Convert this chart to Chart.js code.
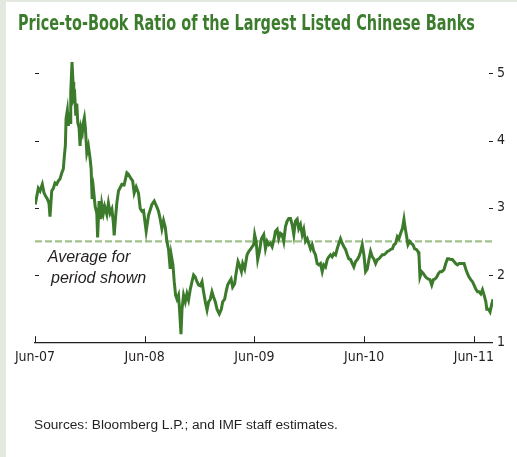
<!DOCTYPE html>
<html>
<head>
<meta charset="utf-8">
<script src="https://cdn.jsdelivr.net/npm/chart.js@4.4.1/dist/chart.umd.min.js"></script>
<style>
  html, body { margin: 0; padding: 0; background: #ffffff; }
  #frame { position: relative; width: 517px; height: 457px; overflow: hidden; background: #ffffff; }
  #edgeLeft { position: absolute; left: 0; top: 0; width: 6px; height: 457px; background: #e3e9de; }
  #edgeTop { position: absolute; left: 0; top: 0; width: 517px; height: 2px; background: #e3e9de; }
  #title {
    position: absolute; left: 18px; top: 12px; margin: 0;
    font-family: 'Liberation Sans Narrow', 'DejaVu Sans Condensed', 'DejaVu Sans', sans-serif;
    font-stretch: condensed; font-weight: bold; font-size: 22px; line-height: 22px;
    color: #3b7d2c; white-space: nowrap; transform-origin: 0 0;
  }
  #source {
    position: absolute; left: 34px; top: 417px; margin: 0;
    font-family: 'Liberation Sans', Arial, sans-serif; font-size: 13.7px; line-height: 16px;
    color: #231f20; white-space: nowrap;
  }
  canvas { position: absolute; left: 0; top: 0; }
</style>
</head>
<body>
<div id="frame">
  <div id="edgeLeft"></div>
  <div id="edgeTop"></div>
  <canvas id="chart" width="517" height="457"></canvas>
  <div id="title">Price-to-Book Ratio of the Largest Listed Chinese Banks</div>
  <div id="source">Sources: Bloomberg L.P.; and IMF staff estimates.</div>
</div>
<script>
// Months elapsed since June 2007
const months = [
  0.03, 0.36, 0.55, 0.80, 0.99, 1.17, 1.35, 1.53, 1.64, 1.83, 2.01, 2.19, 2.38, 2.55, 2.74, 2.93, 3.10, 3.21, 3.32, 3.40,
  3.54, 3.65, 3.76, 3.84, 3.91, 4.05, 4.16, 4.24, 4.35, 4.46, 4.57, 4.68, 4.82, 4.93, 5.04, 5.18, 5.29, 5.40, 5.51, 5.67,
  5.84, 6.03, 6.14, 6.25, 6.39, 6.58, 6.76, 6.85, 7.01, 7.20, 7.31, 7.48, 7.62, 7.86, 8.03, 8.22, 8.41, 8.58, 8.66, 8.82,
  8.95, 9.13, 9.50, 9.75, 10.05, 10.22, 10.47, 10.68, 10.85, 11.07, 11.32, 11.51, 11.69, 11.87, 12.16, 12.42, 12.79, 13.04, 13.34, 13.51,
  13.70, 13.88, 14.06, 14.25, 14.43, 14.61, 14.79, 14.90, 15.09, 15.23, 15.38, 15.53, 15.70, 15.81, 15.97, 16.08, 16.25, 16.44, 16.62, 16.80,
  16.99, 17.17, 17.35, 17.53, 17.72, 17.90, 18.08, 18.27, 18.44, 18.63, 18.82, 18.99, 19.18, 19.36, 19.54, 19.73, 19.91, 20.16, 20.38, 20.53,
  20.75, 20.90, 21.07, 21.26, 21.45, 21.62, 21.84, 21.99, 22.21, 22.36, 22.58, 22.72, 22.94, 23.20, 23.38, 23.56, 23.75, 23.92, 24.03, 24.19,
  24.36, 24.55, 24.77, 25.02, 25.21, 25.39, 25.57, 25.75, 25.94, 26.16, 26.30, 26.49, 26.66, 26.85, 27.04, 27.21, 27.40, 27.58, 27.76, 27.95,
  28.13, 28.31, 28.49, 28.68, 28.85, 29.04, 29.23, 29.40, 29.59, 29.78, 29.95, 30.14, 30.32, 30.50, 30.68, 30.87, 31.05, 31.23, 31.42, 31.59,
  31.78, 31.97, 32.14, 32.33, 32.51, 32.69, 32.88, 33.06, 33.24, 33.42, 33.61, 33.79, 33.97, 34.16, 34.33, 34.52, 34.71, 34.88, 35.07, 35.26,
  35.43, 35.62, 35.80, 35.98, 36.16, 36.35, 36.53, 36.71, 36.90, 37.07, 37.26, 37.45, 37.62, 37.81, 37.99, 38.17, 38.36, 38.54, 38.72, 38.90,
  39.09, 39.27, 39.45, 39.64, 39.81, 40.00, 40.19, 40.36, 40.47, 40.62, 40.80, 40.99, 41.17, 41.35, 41.53, 41.72, 41.90, 42.00, 42.11, 42.30,
  42.49, 42.74, 42.99, 43.21, 43.40, 43.58, 43.76, 43.95, 44.13, 44.31, 44.49, 44.74, 44.93, 45.12, 45.29, 45.48, 45.66, 45.84, 46.03, 46.21,
  46.39, 46.58, 46.76, 46.94, 47.12, 47.31, 47.48, 47.67, 47.86, 48.03, 48.22, 48.41, 48.58, 48.77, 48.95, 49.13, 49.32, 49.42, 49.61, 49.78,
  49.97, 50.11
];

// Price-to-book ratio
const ratios = [
  3.05, 3.29, 3.25, 3.35, 3.22, 3.17, 3.13, 3.07, 2.87, 3.25, 3.29, 3.37, 3.35, 3.40, 3.43, 3.52, 3.58, 3.77, 3.92, 4.33,
  4.45, 4.22, 4.42, 4.27, 4.72, 5.17, 4.87, 4.63, 4.67, 4.37, 4.55, 4.27, 4.19, 3.92, 4.19, 4.12, 4.27, 4.34, 4.19, 3.82,
  3.92, 3.73, 3.58, 3.13, 3.28, 3.02, 2.92, 2.56, 3.10, 2.83, 3.05, 2.92, 3.02, 2.90, 3.07, 2.92, 2.98, 2.77, 2.59, 2.87,
  3.07, 3.25, 3.35, 3.34, 3.52, 3.50, 3.44, 3.40, 3.22, 3.31, 3.22, 2.99, 2.95, 2.96, 2.65, 2.89, 3.05, 3.10, 3.01, 2.95,
  2.83, 2.69, 2.81, 2.71, 2.50, 2.38, 2.09, 2.30, 2.15, 1.90, 1.70, 1.64, 1.70, 1.49, 1.12, 1.49, 1.70, 1.60, 1.72, 1.63,
  1.79, 1.90, 2.00, 1.97, 1.90, 1.85, 1.84, 1.90, 1.75, 1.60, 1.48, 1.60, 1.64, 1.75, 1.67, 1.60, 1.49, 1.42, 1.49, 1.60,
  1.64, 1.75, 1.85, 1.90, 1.94, 1.82, 1.87, 2.02, 2.20, 2.15, 2.05, 2.17, 2.09, 2.30, 2.35, 2.38, 2.42, 2.45, 2.60, 2.50,
  2.23, 2.35, 2.54, 2.60, 2.39, 2.50, 2.45, 2.47, 2.42, 2.54, 2.65, 2.68, 2.54, 2.62, 2.60, 2.50, 2.72, 2.80, 2.84, 2.84,
  2.75, 2.60, 2.80, 2.83, 2.69, 2.75, 2.60, 2.68, 2.50, 2.54, 2.47, 2.39, 2.45, 2.35, 2.30, 2.17, 2.15, 2.17, 2.05, 2.15,
  2.12, 2.23, 2.27, 2.30, 2.27, 2.32, 2.30, 2.39, 2.47, 2.54, 2.47, 2.42, 2.38, 2.30, 2.24, 2.23, 2.17, 2.12, 2.20, 2.23,
  2.27, 2.35, 2.45, 2.30, 2.05, 2.09, 2.23, 2.35, 2.27, 2.24, 2.17, 2.23, 2.24, 2.27, 2.30, 2.30, 2.32, 2.35, 2.36, 2.38,
  2.39, 2.45, 2.47, 2.57, 2.54, 2.62, 2.69, 2.83, 2.72, 2.60, 2.45, 2.50, 2.47, 2.45, 2.39, 2.38, 2.35, 2.30, 1.97, 2.05,
  2.02, 1.97, 1.94, 1.93, 1.85, 1.93, 1.94, 1.97, 2.02, 2.05, 2.05, 2.08, 2.17, 2.24, 2.24, 2.23, 2.23, 2.20, 2.17, 2.15,
  2.17, 2.17, 2.17, 2.17, 2.09, 2.02, 1.97, 1.93, 1.90, 1.85, 1.79, 1.75, 1.75, 1.72, 1.78, 1.70, 1.60, 1.49, 1.49, 1.45,
  1.57, 1.64
];

// Average over the whole period
const periodAverage = 2.5;
const periodStart = 0;
const periodEnd = 50.1;

// Axis ticks
const xTickMonths = [0, 12, 24, 36, 48];
const xTickLabels = ['Jun-07', 'Jun-08', 'Jun-09', 'Jun-10', 'Jun-11'];
const yTickValues = [1, 2, 3, 4, 5];
const averageNote = ['Average for', 'period shown'];

const INK = '#231f20';
const axisFont = { family: "'Liberation Sans Narrow', 'DejaVu Sans Condensed', sans-serif", size: 14 };

// Short inward tick marks on both sides and along the bottom axis,
// plus the note beside the average line
const innerTicks = {
  id: 'innerTicks',
  afterDraw(chart) {
    const { ctx, chartArea: a, scales } = chart;
    const y = scales.y, x = scales.x;
    ctx.save();
    ctx.strokeStyle = INK;
    ctx.lineWidth = 1;
    ctx.beginPath();
    y.ticks.forEach(t => {
      const py = Math.round(y.getPixelForValue(t.value)) + 0.5;
      ctx.moveTo(a.left, py); ctx.lineTo(a.left + 4, py);
      ctx.moveTo(a.right - 4, py); ctx.lineTo(a.right, py);
    });
    x.ticks.forEach(t => {
      const px = Math.round(x.getPixelForValue(t.value)) + 0.5;
      ctx.moveTo(px, a.bottom); ctx.lineTo(px, a.bottom - 6);
    });
    ctx.stroke();

    ctx.fillStyle = INK;
    ctx.font = "italic 16px 'Liberation Sans', Arial, sans-serif";
    ctx.textAlign = 'left';
    ctx.textBaseline = 'middle';
    ctx.fillText(averageNote[0], x.getPixelForValue(1.4), y.getPixelForValue(2.26));
    ctx.fillText(averageNote[1], x.getPixelForValue(1.75), y.getPixelForValue(1.95));
    ctx.restore();
  }
};

new Chart(document.getElementById('chart'), {
  type: 'line',
  data: {
    datasets: [
      {
        label: 'Average',
        data: [{ x: periodStart, y: periodAverage }, { x: periodEnd, y: periodAverage }],
        borderColor: '#a2c28d',
        borderWidth: 2.2,
        borderDash: [7, 3],
        pointRadius: 0,
        order: 2
      },
      {
        label: 'Price-to-book ratio',
        data: months.map((m, i) => ({ x: m, y: ratios[i] })),
        borderColor: '#3b7b2b',
        borderWidth: 3,
        pointRadius: 0,
        tension: 0,
        order: 1
      }
    ]
  },
  options: {
    responsive: false,
    animation: false,
    devicePixelRatio: 1,
    layout: { padding: { left: 35, right: 8, top: 46.5, bottom: 84 } },
    plugins: { legend: { display: false }, tooltip: { enabled: false } },
    scales: {
      x: {
        type: 'linear',
        min: periodStart,
        max: periodEnd,
        grid: { display: false, drawTicks: false },
        border: { display: true, color: INK, width: 1.3 },
        afterBuildTicks: s => { s.ticks = xTickMonths.map(v => ({ value: v })); },
        ticks: {
          autoSkip: false, maxRotation: 0, padding: 7, color: INK, font: axisFont,
          callback: v => xTickLabels[xTickMonths.indexOf(v)]
        }
      },
      y: {
        position: 'right',
        min: 1,
        max: 5.4,
        grid: { display: false, drawTicks: false },
        border: { display: false },
        afterBuildTicks: s => { s.ticks = yTickValues.map(v => ({ value: v })); },
        ticks: { padding: 4, color: INK, font: axisFont }
      }
    }
  },
  plugins: [innerTicks]
});

// Fit the heading to its measured line length
const title = document.getElementById('title');
const w = title.getBoundingClientRect().width;
title.style.transform = 'scaleX(' + (457 / w).toFixed(4) + ')';
</script>
</body>
</html>
